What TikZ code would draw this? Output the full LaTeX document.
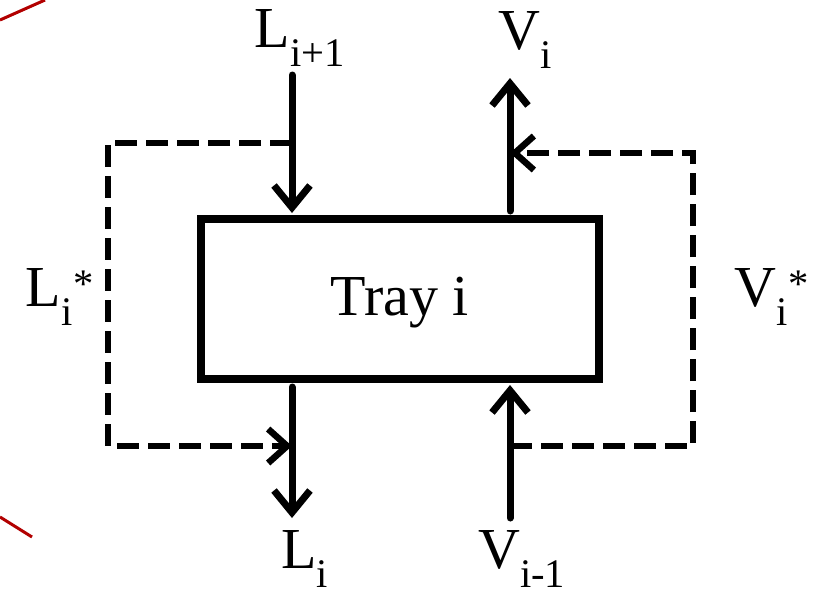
\documentclass[tikz,border=0pt]{standalone}
\usepackage{fontspec}
\setmainfont{Liberation Serif}
\usetikzlibrary{arrows.meta}
\begin{document}
\begin{tikzpicture}[x=1pt,y=-1pt,
  flow/.style={line width=7pt,-{Straight Barb[length=22pt,width=36pt,line width=7pt]},line cap=round},
  dflow/.style={line width=6.5pt,dash pattern=on 22pt off 9pt,-{Straight Barb[length=19pt,width=34pt,line width=6.5pt]}},
  lbl/.style={font=\fontsize{58}{60}\selectfont,inner sep=0pt},
  slant/.style={draw=red!70!black,line width=3pt}]
\useasboundingbox (0,0) rectangle (818,595);
\draw[slant] (0,20) -- (45,0);
\draw[slant] (0,517) -- (32,537);
\node[draw,line width=8pt,minimum width=398pt,minimum height=160pt,inner sep=0pt] (tray) at (400,299) {};
\node[lbl] (traytxt) at (400,303) {Tray i};
\coordinate (ltop) at (292,75);
\coordinate (lin) at (292,213);
\coordinate (lout) at (292,387);
\coordinate (lbot) at (292,518);
\coordinate (vtop) at (510,78);
\coordinate (vout) at (510,211);
\coordinate (vin) at (510,385);
\coordinate (vbot) at (510,518);
\coordinate (lsplit) at (292,143);
\coordinate (lmerge) at (292,446);
\coordinate (vsplit) at (510,446);
\coordinate (vmerge) at (510,153);
\draw[flow] (ltop) -- (lin);
\draw[flow] (lout) -- (lbot);
\draw[flow] (vout) -- (vtop);
\draw[flow] (vbot) -- (vin);
\draw[dflow] (lsplit) -- (108,143) -- (108,446) -- (lmerge);
\draw[dflow] (vsplit) -- (693,446) -- (693,153) -- (vmerge);
\node[lbl] (l1) at (300,38) {L\textsubscript{i+1}};
\node[lbl] (v1) at (525,40) {V\textsubscript{i}};
\node[lbl] (ls) at (60,297) {L\textsubscript{i}\textsuperscript{*}};
\node[lbl] (vs) at (772,297) {V\textsubscript{i}\textsuperscript{*}};
\node[lbl] (l0) at (305,559) {L\textsubscript{i}};
\node[lbl] (v0) at (522,559) {V\textsubscript{i-1}};
\end{tikzpicture}
\end{document}
